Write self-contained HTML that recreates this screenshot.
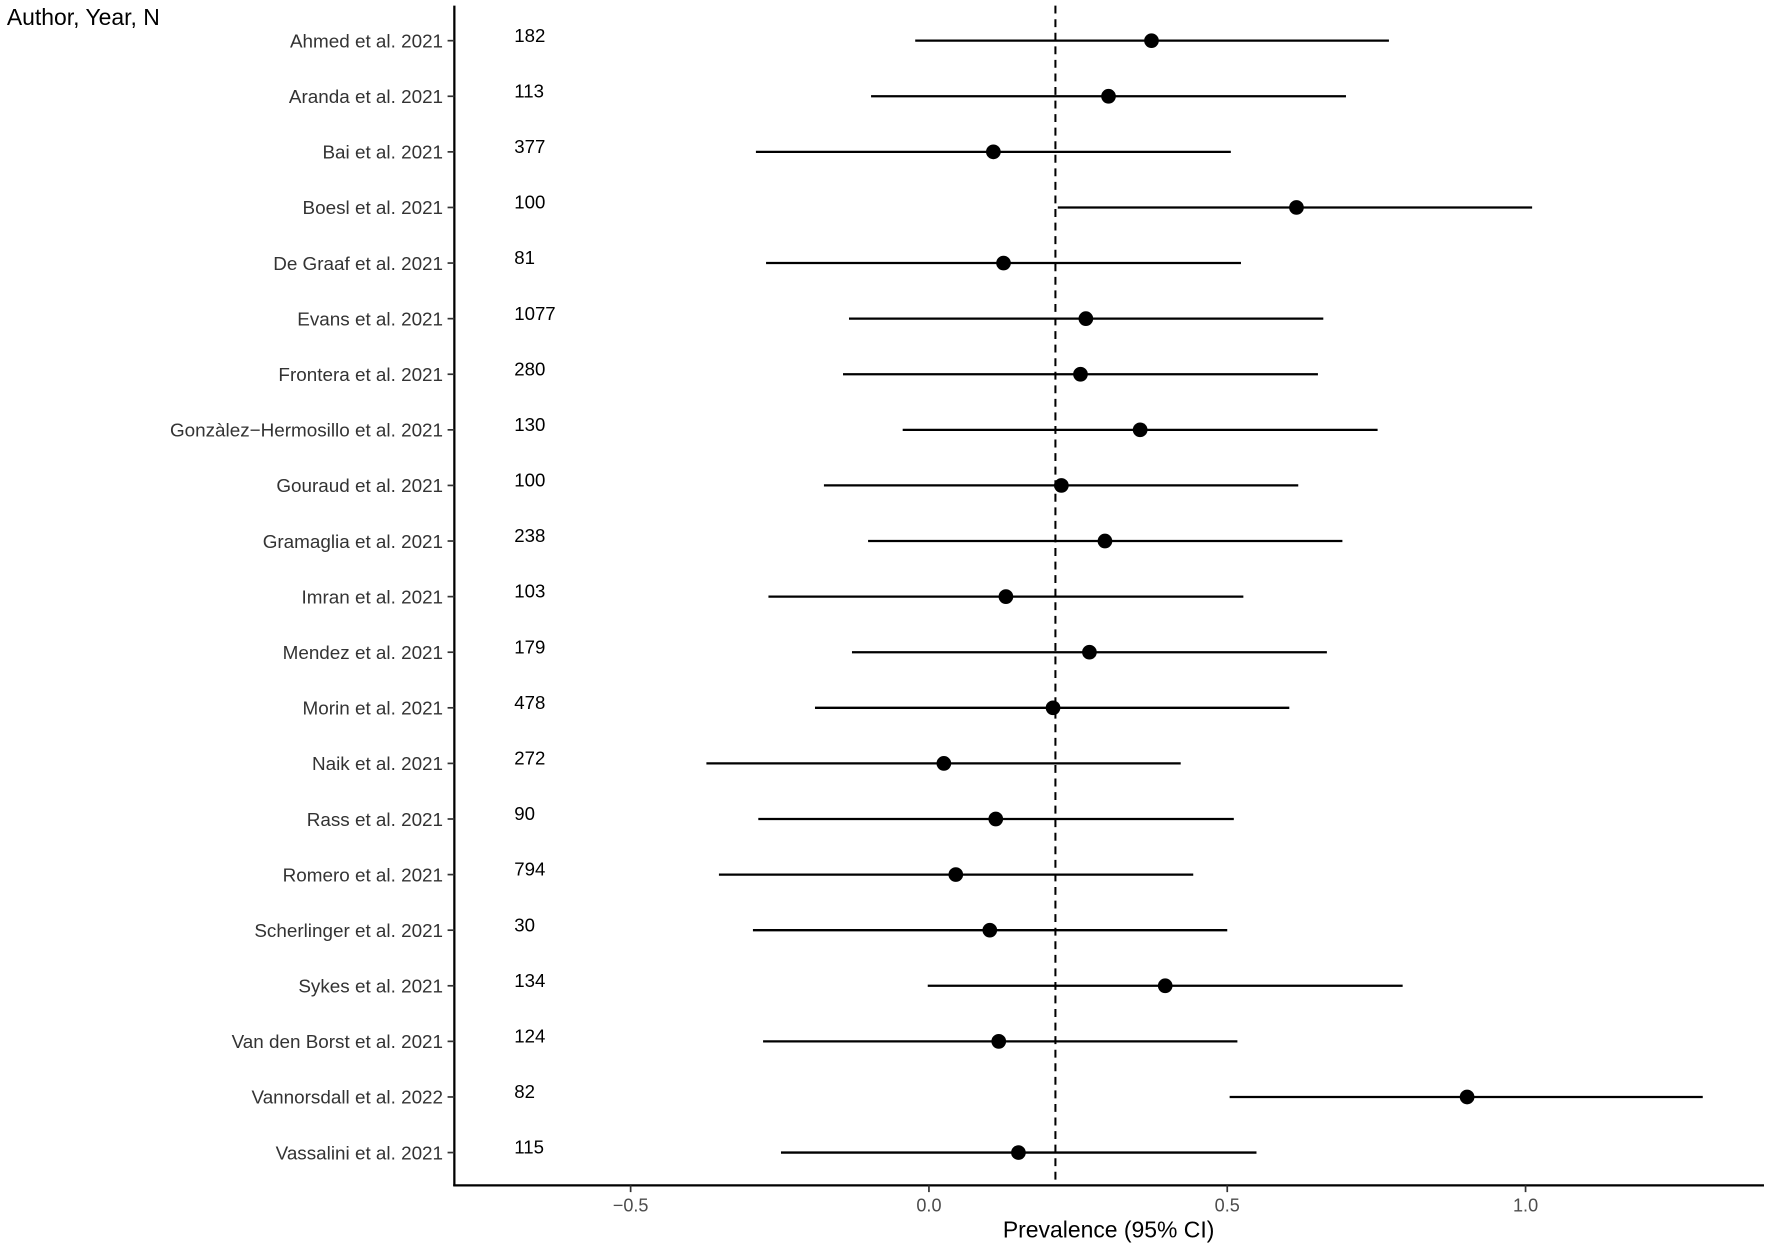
<!DOCTYPE html>
<html><head><meta charset="utf-8"><style>
html,body{margin:0;padding:0;background:#fff}
svg{display:block;font-family:"Liberation Sans",Arial,sans-serif}
</style></head><body>
<svg id="chart" width="1772" height="1252" viewBox="0 0 1568 1108" xmlns="http://www.w3.org/2000/svg">
<text x="6" y="22" font-size="20.3" fill="#000">Author, Year, N</text>
<text x="981" y="1095" font-size="20.3" text-anchor="middle" fill="#000">Prevalence (95% CI)</text>
<g id="plot"></g>
</svg>
<script>
const studies=["Ahmed et al. 2021","Aranda et al. 2021","Bai et al. 2021","Boesl et al. 2021","De Graaf et al. 2021","Evans et al. 2021","Frontera et al. 2021","Gonzàlez−Hermosillo et al. 2021","Gouraud et al. 2021","Gramaglia et al. 2021","Imran et al. 2021","Mendez et al. 2021","Morin et al. 2021","Naik et al. 2021","Rass et al. 2021","Romero et al. 2021","Scherlinger et al. 2021","Sykes et al. 2021","Van den Borst et al. 2021","Vannorsdall et al. 2022","Vassalini et al. 2021"];
const sampleN=[182,113,377,100,81,1077,280,130,100,238,103,179,478,272,90,794,30,134,124,82,115];
const estimate=[0.373,0.301,0.108,0.616,0.125,0.263,0.254,0.354,0.222,0.295,0.129,0.269,0.208,0.025,0.112,0.045,0.102,0.396,0.117,0.902,0.150];
const lower=[-0.023,-0.097,-0.290,0.216,-0.273,-0.134,-0.144,-0.044,-0.176,-0.102,-0.269,-0.129,-0.191,-0.373,-0.286,-0.352,-0.295,-0.002,-0.278,0.504,-0.248];
const upper=[0.771,0.699,0.506,1.011,0.523,0.661,0.652,0.752,0.619,0.693,0.527,0.667,0.604,0.422,0.511,0.443,0.500,0.794,0.517,1.297,0.549];
const pooled=0.212;
const xTicks=[-0.5,0,0.5,1.0];
const xTickLabels=["−0.5","0.0","0.5","1.0"];
const NS="http://www.w3.org/2000/svg";
const g=document.getElementById('plot');
const x=v=>822+v*528;
const y=i=>36+i*49.2;
function mk(t,a){const e=document.createElementNS(NS,t);for(const k in a)e.setAttribute(k,a[k]);g.appendChild(e);return e;}
let ax=mk('line',{x1:402,y1:5,x2:402,y2:1049.5,stroke:'#000','stroke-width':2});


let bx=mk('line',{x1:401,y1:1049,x2:1561,y2:1049,stroke:'#000','stroke-width':2});


xTicks.forEach((t,i)=>{
 let tk=mk('line',{x1:x(t),y1:1049,x2:x(t),y2:1055,stroke:'#333','stroke-width':1.5});
 
 
 let tl=mk('text',{x:x(t),y:1072,'font-size':16,'text-anchor':'middle',fill:'#4d4d4d'});
 tl.textContent=xTickLabels[i];
 
 
});
let dl=mk('line',{x1:x(pooled),y1:5,x2:x(pooled),y2:1049,stroke:'#000','stroke-width':1.8,'stroke-dasharray':'7,5'});


studies.forEach((s,i)=>{
 let yt=mk('line',{x1:396,y1:y(i),x2:402,y2:y(i),stroke:'#333','stroke-width':1.5});
 
 
 let lb=mk('text',{x:392,y:y(i)+6,'font-size':16.7,'text-anchor':'end',fill:'#333'});
 lb.textContent=s;
 
 
 let nl=mk('text',{x:455,y:y(i)+1,'font-size':16.5,fill:'#000'});
 nl.textContent=sampleN[i];
 
 
 let ci=mk('line',{x1:x(lower[i]),y1:y(i),x2:x(upper[i]),y2:y(i),stroke:'#000','stroke-width':2});
 
 
 let pt=mk('circle',{cx:x(estimate[i]),cy:y(i),r:6.5,fill:'#000'});
 
 
});
</script>
</body></html>
